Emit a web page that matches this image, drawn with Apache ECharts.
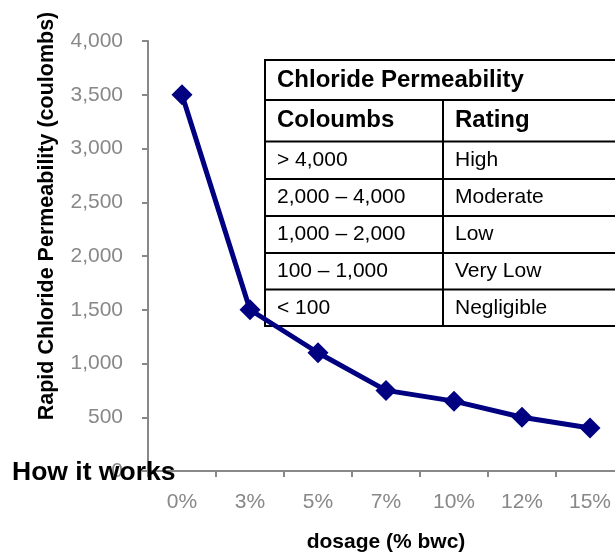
<!DOCTYPE html>
<html>
<head>
<meta charset="utf-8">
<script src="https://cdn.jsdelivr.net/npm/echarts@6/dist/echarts.min.js"></script>
<style>
html,body{margin:0;padding:0;background:#fff;}
#chart{width:615px;height:556px;}
</style>
</head>
<body>
<div id="chart"></div>
<script>
var categories = ['0%', '3%', '5%', '7%', '10%', '12%', '15%'];
var permeability = [3500, 1500, 1100, 750, 650, 500, 400];
var tableTitle = 'Chloride Permeability';
var tableHeaders = ['Coloumbs', 'Rating'];
var tableRanges = ['> 4,000', '2,000 \u2013 4,000', '1,000 \u2013 2,000', '100 \u2013 1,000', '< 100'];
var tableRatings = ['High', 'Moderate', 'Low', 'Very Low', 'Negligible'];

var FONT = '"Liberation Sans", Arial, sans-serif';
var chart = echarts.init(document.getElementById('chart'));

// table layout
var tx0 = 265, tx1 = 640, tcol = 443;
var rowY = [60, 100, 141.5, 179, 216, 253, 289.5, 326];
var tableEls = [];
tableEls.push({type:'rect', shape:{x:tx0, y:rowY[0], width:tx1-tx0, height:rowY[rowY.length-1]-rowY[0]},
  style:{fill:'#fff', stroke:'#000', lineWidth:2}, z:1});
for (var i = 1; i < rowY.length - 1; i++) {
  tableEls.push({type:'line', shape:{x1:tx0, y1:rowY[i], x2:tx1, y2:rowY[i]}, style:{stroke:'#000', lineWidth:2}, z:1});
}
tableEls.push({type:'line', shape:{x1:tcol, y1:rowY[1], x2:tcol, y2:rowY[rowY.length-1]}, style:{stroke:'#000', lineWidth:2}, z:1});
tableEls.push({type:'text', x:277, y:(rowY[0]+rowY[1])/2, z:2,
  style:{text:tableTitle, font:'bold 24px ' + FONT, fill:'#000', verticalAlign:'middle'}});
tableEls.push({type:'text', x:277, y:(rowY[1]+rowY[2])/2, z:2,
  style:{text:tableHeaders[0], font:'bold 24px ' + FONT, fill:'#000', verticalAlign:'middle'}});
tableEls.push({type:'text', x:455, y:(rowY[1]+rowY[2])/2, z:2,
  style:{text:tableHeaders[1], font:'bold 24px ' + FONT, fill:'#000', verticalAlign:'middle'}});
for (var r = 0; r < tableRanges.length; r++) {
  var cy = (rowY[r+2] + rowY[r+3]) / 2;
  tableEls.push({type:'text', x:277, y:cy, z:2,
    style:{text:tableRanges[r], font:'21px ' + FONT, fill:'#000', verticalAlign:'middle'}});
  tableEls.push({type:'text', x:455, y:cy, z:2,
    style:{text:tableRatings[r], font:'21px ' + FONT, fill:'#000', verticalAlign:'middle'}});
}

var option = {
  animation: false,
  backgroundColor: '#fff',
  grid: {left: 148, top: 41, width: 476, height: 430, outerBoundsMode: 'none', containLabel: false},
  xAxis: {
    type: 'category',
    data: categories,
    boundaryGap: true,
    axisLine: {show: true, lineStyle: {color: '#888', width: 2}},
    axisTick: {show: true, inside: false, length: 6, alignWithLabel: false, lineStyle: {color: '#888', width: 2}},
    axisLabel: {color: '#888', fontSize: 21, fontFamily: FONT, margin: 21},
    splitLine: {show: false}
  },
  yAxis: {
    type: 'value',
    min: 0, max: 4000, interval: 500,
    axisLine: {show: true, lineStyle: {color: '#888', width: 2}},
    axisTick: {show: true, length: 6, lineStyle: {color: '#888', width: 2}},
    axisLabel: {color: '#888', fontSize: 21, fontFamily: FONT, margin: 25,
      formatter: function (v) { return v.toLocaleString('en-US'); }},
    splitLine: {show: false}
  },
  series: [{
    type: 'line',
    data: permeability,
    symbol: 'diamond',
    symbolSize: 21,
    itemStyle: {color: '#000080'},
    lineStyle: {color: '#000080', width: 5},
    z: 3
  }],
  graphic: [
    {type:'group', children: tableEls, z: 5},
    {type:'text', x:47, y:216, rotation: Math.PI/2, z: 10,
      style:{text:'Rapid Chloride Permeability (coulombs)', font:'bold 21.5px ' + FONT, fill:'#000', align:'center', verticalAlign:'middle'}},
    {type:'text', x:386, y:542, z: 10,
      style:{text:'dosage (% bwc)', font:'bold 21px ' + FONT, fill:'#000', align:'center', verticalAlign:'middle'}},
    {type:'text', x:12, y:473, z: 10,
      style:{text:'How it works', font:'bold 26.5px ' + FONT, fill:'#000', align:'left', verticalAlign:'middle'}}
  ]
};
chart.setOption(option);
</script>
</body>
</html>
